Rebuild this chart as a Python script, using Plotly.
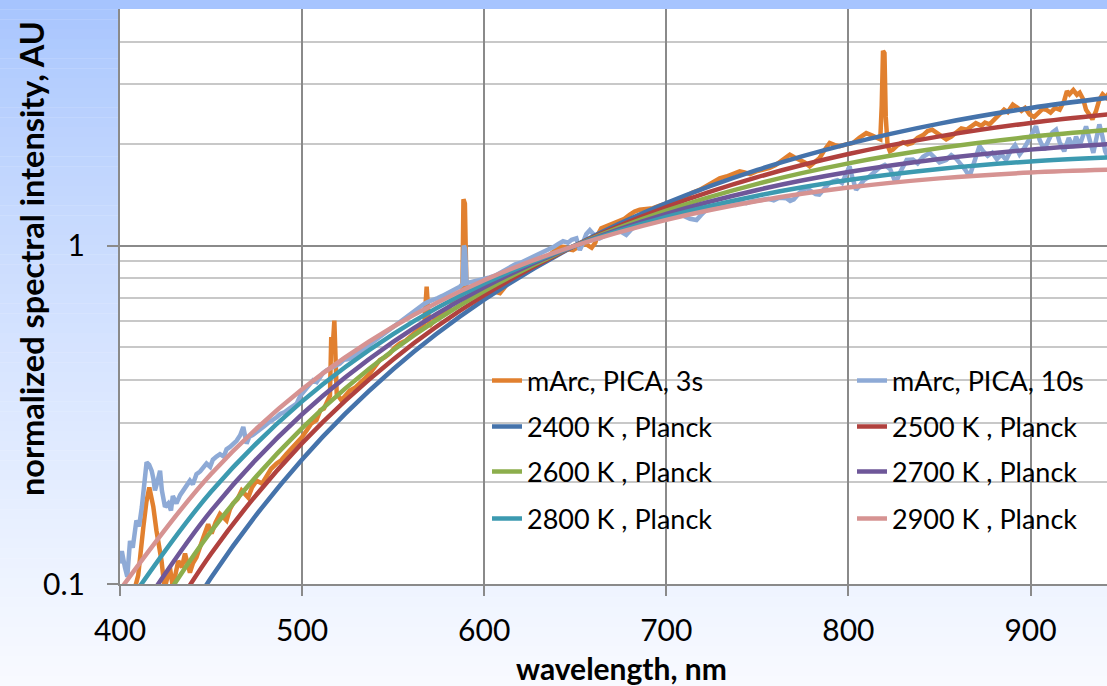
import plotly.graph_objects as go

# ---------------- data ----------------
PICA3_NM = [404, 408, 410, 412.8, 414.5, 416.1, 418.3, 420, 422.8, 424.5, 427.4, 429, 432, 434, 435.7,
            438.4, 440, 442, 444, 445.7, 448.4, 450.3, 452.5, 454.9, 458.5, 460.3, 462.1, 464.5, 466.8,
            470.4, 472.5, 475, 478, 480.5, 483, 486, 488.5, 491.4, 494, 497, 500, 502.5, 505, 507.9, 510,
            512, 514.3, 515.3, 516, 516.8, 517.7, 518.4, 519, 521.6, 524, 526.2, 529, 531.7, 534.5, 537.2,
            540, 542.7, 545.5, 548.2, 551, 553.7, 556.5, 559.2, 562, 564.7, 567, 568.4, 569.8, 572.5,
            575.6, 578.3, 581.1, 584, 586.6, 588, 588.6, 589.4, 590.3, 593, 595.7, 598, 601, 604, 606,
            608.6, 611, 614, 617, 620, 623, 626, 629, 632, 635, 638, 641.5, 644, 646.5, 648.8, 651, 654,
            656.5, 659, 661, 662.5, 664.3, 667, 670.7, 674, 677, 680, 682.6, 685.4, 689, 692.7, 696, 700,
            703.5, 707.4, 711, 714.5, 718.3, 722, 725.5, 729.3, 733, 736.5, 740.3, 743, 746, 749.4, 753,
            756.7, 760, 764, 767.8, 770.5, 773.3, 776, 778.7, 781.5, 784.2, 787, 789.7, 792.5, 795.2,
            798.8, 802.5, 806, 809.8, 812.5, 815.3, 817.5, 818.3, 819, 819.8, 820.5, 821.5, 822.8, 824.4,
            827, 830, 832.5, 835, 838, 841, 843.5, 846, 848.5, 851, 853.7, 856.5, 859, 862, 865, 867.5,
            870, 873, 875, 877.5, 880, 883, 885.5, 887.5, 890.3, 892.5, 895, 897, 899.5, 902, 904.5,
            906.5, 908.6, 911, 913.5, 916, 918.5, 920, 921.4, 923.5, 925.5, 927, 929, 930.5, 932, 934,
            936, 937.8, 939.6, 941.5, 943]
PICA3_VAL = [0.080, 0.095, 0.106, 0.147, 0.175, 0.193, 0.169, 0.144, 0.117, 0.097, 0.112, 0.098, 0.117,
             0.112, 0.123, 0.108, 0.115, 0.120, 0.130, 0.137, 0.150, 0.141, 0.152, 0.161, 0.154, 0.166,
             0.173, 0.178, 0.189, 0.180, 0.193, 0.202, 0.198, 0.207, 0.219, 0.227, 0.232, 0.242, 0.250,
             0.260, 0.272, 0.284, 0.298, 0.305, 0.326, 0.330, 0.349, 0.360, 0.537, 0.500, 0.600, 0.450,
             0.365, 0.349, 0.362, 0.373, 0.380, 0.391, 0.405, 0.419, 0.440, 0.459, 0.468, 0.480, 0.500,
             0.514, 0.522, 0.537, 0.551, 0.569, 0.572, 0.756, 0.577, 0.600, 0.630, 0.640, 0.660, 0.690,
             0.706, 0.720, 1.370, 1.330, 0.730, 0.745, 0.735, 0.755, 0.750, 0.745, 0.730, 0.723, 0.750,
             0.790, 0.800, 0.820, 0.840, 0.850, 0.875, 0.900, 0.925, 0.955, 0.993, 0.990, 0.975, 0.970,
             0.990, 1.010, 1.005, 0.985, 1.020, 1.080, 1.125, 1.140, 1.165, 1.180, 1.200, 1.235, 1.260,
             1.276, 1.285, 1.290, 1.310, 1.335, 1.350, 1.366, 1.400, 1.435, 1.460, 1.500, 1.545, 1.580,
             1.600, 1.630, 1.656, 1.645, 1.625, 1.656, 1.670, 1.695, 1.730, 1.800, 1.857, 1.820, 1.795,
             1.760, 1.714, 1.760, 1.814, 1.920, 2.010, 1.980, 1.965, 1.990, 2.010, 2.080, 2.150, 2.120,
             2.080, 2.060, 2.600, 3.760, 3.700, 2.400, 1.980, 1.900, 1.920, 1.980, 2.020, 1.990, 2.010,
             2.080, 2.120, 2.180, 2.200, 2.150, 2.100, 2.060, 2.100, 2.160, 2.220, 2.200, 2.260, 2.300,
             2.260, 2.310, 2.280, 2.360, 2.450, 2.520, 2.480, 2.610, 2.560, 2.500, 2.550, 2.440, 2.400,
             2.470, 2.530, 2.520, 2.470, 2.550, 2.520, 2.680, 2.860, 2.800, 2.880, 2.790, 2.830, 2.700,
             2.520, 2.450, 2.360, 2.500, 2.700, 2.800, 2.740, 2.820]

PICA10_NM = [400, 401, 402.7, 404, 405.5, 407, 409, 410.5, 412, 413.5, 414.6, 416, 417.4, 418.3, 419.2,
             420.5, 422, 423, 424.7, 426.5, 428, 429, 431, 433, 434.7, 436.5, 438.4, 440, 442, 444, 445.5,
             447.5, 449.5, 451, 453, 454.9, 457, 458.5, 460.4, 462, 464, 466, 467.7, 469.5, 471, 473, 475,
             476.8, 479, 481, 483.5, 486, 488, 490.5, 493, 495, 497, 499, 501, 502.5, 504, 506, 508, 510,
             511.5, 513.4, 515.5, 518, 520.7, 523, 525.5, 528, 530.5, 533, 535.4, 538, 540, 542.7, 545,
             547.5, 550, 552.5, 555, 557.4, 560, 562, 564.7, 567, 569.5, 572, 574.5, 577, 579.3, 582,
             584.5, 586.6, 588.2, 588.8, 589.5, 590.3, 592.5, 595, 597.6, 600, 603, 606, 608.6, 611, 614,
             617, 620, 623, 626, 629, 632, 635, 638, 640.5, 643.3, 646, 648, 650.6, 651.8, 652.5, 654, 656,
             658, 660, 663.4, 666, 669, 672, 675, 678, 681, 684, 687, 690, 692.7, 696, 700, 703.5, 707.4,
             710, 713, 716.6, 719, 722, 725, 728, 731.5, 734.7, 738, 741, 743.9, 747, 750, 753, 756, 759,
             762, 765.9, 768, 770, 773, 776.9, 780, 782, 784, 786.5, 789, 791.5, 794, 796.5, 798.5, 800.6,
             802, 804.2, 806, 808.5, 811.6, 814, 817, 820, 823, 826, 828.5, 832, 835.4, 838, 841, 844.6,
             847, 850, 853.7, 856.5, 859, 862, 864, 866.5, 869, 872, 874, 876.5, 879, 881.5, 884, 886.6,
             889, 891.5, 894, 896.5, 899, 901, 903, 905, 907.5, 910, 912, 914, 916, 918.5, 921, 923.5,
             925, 927, 929, 930.5, 932.5, 934.5, 936, 937.8, 939.5, 941, 942.5, 944]
PICA10_VAL = [0.115, 0.125, 0.112, 0.105, 0.134, 0.128, 0.154, 0.148, 0.169, 0.200, 0.229, 0.225, 0.216,
              0.205, 0.189, 0.200, 0.216, 0.189, 0.169, 0.173, 0.165, 0.182, 0.173, 0.183, 0.189, 0.195,
              0.202, 0.197, 0.211, 0.215, 0.220, 0.227, 0.222, 0.233, 0.238, 0.242, 0.238, 0.250, 0.254,
              0.258, 0.265, 0.275, 0.291, 0.260, 0.272, 0.276, 0.281, 0.284, 0.292, 0.298, 0.304, 0.311,
              0.318, 0.322, 0.330, 0.335, 0.341, 0.360, 0.372, 0.382, 0.390, 0.400, 0.395, 0.410, 0.420,
              0.428, 0.433, 0.440, 0.448, 0.460, 0.462, 0.469, 0.480, 0.490, 0.502, 0.515, 0.523, 0.537,
              0.548, 0.560, 0.575, 0.588, 0.600, 0.616, 0.630, 0.645, 0.660, 0.672, 0.683, 0.690, 0.700,
              0.710, 0.720, 0.735, 0.745, 0.756, 0.770, 1.000, 0.980, 0.774, 0.780, 0.785, 0.791, 0.800,
              0.805, 0.815, 0.830, 0.845, 0.866, 0.880, 0.890, 0.905, 0.925, 0.940, 0.955, 0.970, 0.990,
              1.010, 1.030, 1.020, 1.040, 1.050, 0.990, 0.970, 1.010, 1.080, 1.110, 1.080, 1.050, 1.070,
              1.090, 1.100, 1.100, 1.075, 1.120, 1.140, 1.155, 1.170, 1.180, 1.200, 1.210, 1.235, 1.250,
              1.220, 1.200, 1.190, 1.230, 1.276, 1.290, 1.300, 1.320, 1.335, 1.320, 1.345, 1.335, 1.350,
              1.360, 1.366, 1.375, 1.360, 1.385, 1.380, 1.355, 1.370, 1.430, 1.480, 1.450, 1.420, 1.414,
              1.460, 1.520, 1.547, 1.560, 1.530, 1.620, 1.714, 1.600, 1.460, 1.500, 1.560, 1.600, 1.640,
              1.700, 1.730, 1.680, 1.530, 1.650, 1.790, 1.795, 1.750, 1.830, 1.880, 1.820, 1.760, 1.790,
              1.850, 1.810, 1.740, 1.680, 1.600, 1.750, 1.970, 1.900, 1.840, 1.880, 1.800, 1.860, 1.790,
              1.900, 1.980, 1.860, 1.940, 2.050, 2.150, 2.250, 2.050, 1.920, 2.050, 2.160, 2.200, 2.020,
              1.900, 2.080, 1.950, 2.100, 1.970, 2.120, 2.250, 2.050, 1.880, 2.050, 2.280, 2.100, 1.900,
              1.830, 2.000]

PLANCK_NM = [400, 450, 500, 550, 600, 650, 700, 750, 800, 850, 900, 950]
K2400 = [0.0355, 0.1043, 0.2334, 0.4310, 0.6918, 1.0, 1.3342, 1.6728, 1.9969, 2.2924, 2.5498, 2.7644]
K2500 = [0.0448, 0.1229, 0.2607, 0.4609, 0.7134, 1.0, 1.2996, 1.5926, 1.8636, 2.1023, 2.3024, 2.4617]
K2600 = [0.0554, 0.1430, 0.2887, 0.4903, 0.7340, 1.0, 1.2684, 1.5221, 1.7487, 1.9409, 2.0953, 2.2118]
K2700 = [0.0674, 0.1645, 0.3174, 0.5193, 0.7535, 1.0, 1.2402, 1.4596, 1.6487, 1.8028, 1.9206, 2.0035]
K2800 = [0.0810, 0.1873, 0.3465, 0.5477, 0.7721, 1.0, 1.2146, 1.4039, 1.5610, 1.6834, 1.7715, 1.8279]
K2900 = [0.0960, 0.2114, 0.3760, 0.5755, 0.7899, 1.0, 1.1913, 1.3540, 1.4837, 1.5795, 1.6433, 1.6784]

X_TICKS = [400, 500, 600, 700, 800, 900]
Y_TICKS = [0.1, 1]
Y_MINOR = [0.2, 0.3, 0.4, 0.5, 0.6, 0.7, 0.8, 0.9, 2, 3, 4, 5]

# ---------------- figure ----------------
W, H = 1107, 686
ML, MR, MT, MB = 120, 0, 9, 102
PW, PH = W - ML - MR, H - MT - MB

def px_x(p):
    return (p - ML) / PW

def px_y(p):
    return (H - MB - p) / PH

FONT = "Lato"

series = [
    ("mArc, PICA, 3s", PICA3_NM, PICA3_VAL, "#e1802f", "linear", 4.5),
    ("mArc, PICA, 10s", PICA10_NM, PICA10_VAL, "#8eaad6", "linear", 4.5),
    ("2400 K , Planck", PLANCK_NM, K2400, "#4573ab", "spline", 4.5),
    ("2500 K , Planck", PLANCK_NM, K2500, "#b0413e", "spline", 4.5),
    ("2600 K , Planck", PLANCK_NM, K2600, "#8cae4c", "spline", 4.5),
    ("2700 K , Planck", PLANCK_NM, K2700, "#6e5799", "spline", 4.5),
    ("2800 K , Planck", PLANCK_NM, K2800, "#3c9ab0", "spline", 4.5),
    ("2900 K , Planck", PLANCK_NM, K2900, "#d69392", "spline", 4.5),
]

# legend slot positions (pixel) : column x, row y
LEG_X = [487, 852]
LEG_Y = [381, 427, 472, 519]

fig = go.Figure()
layout_legends = {}
for i, (name, xs, ys, col, shape, lw) in enumerate(series):
    lname = "legend" if i == 0 else f"legend{i+1}"
    fig.add_trace(go.Scatter(
        x=xs, y=ys, mode="lines", name=name,
        line=dict(color=col, width=lw, shape=shape),
        legend=lname, hoverinfo="skip"))
    layout_legends[lname] = dict(
        x=px_x(LEG_X[i % 2]), y=px_y(LEG_Y[i // 2]),
        xanchor="left", yanchor="middle",
        bgcolor="rgba(0,0,0,0)", borderwidth=0,
        font=dict(family=FONT, size=27, color="black"))

# background gradient (light blue at top fading to white)
shapes = []
N = 70
top = (166, 196, 254)
bot = (248, 250, 255)
y_top = px_y(0)
y_bot = px_y(H)
for k in range(N):
    t = k / (N - 1)
    tt = t ** 0.8
    c = tuple(int(round(top[j] + (bot[j] - top[j]) * tt)) for j in range(3))
    ya = y_top + (y_bot - y_top) * k / N
    yb = y_top + (y_bot - y_top) * (k + 1) / N
    shapes.append(dict(type="rect", xref="paper", yref="paper",
                       x0=px_x(0), x1=px_x(W), y0=yb, y1=ya + 0.0005,
                       fillcolor=f"rgb{c}", line=dict(width=0), layer="below"))
shapes.append(dict(type="rect", xref="paper", yref="paper", x0=0, x1=1, y0=0, y1=1,
                   fillcolor="white", line=dict(width=0), layer="below"))

fig.update_layout(
    width=W, height=H,
    margin=dict(l=ML, r=MR, t=MT, b=MB),
    paper_bgcolor="#f8faff", plot_bgcolor="white",
    shapes=shapes,
    showlegend=True,
    font=dict(family=FONT, color="black"),
    annotations=[
        dict(text="<b>wavelength, nm</b>", xref="paper", yref="paper",
             x=px_x(621), y=px_y(668), xanchor="center", yanchor="middle",
             showarrow=False, font=dict(family=FONT, size=30, color="black")),
        dict(text="<b>normalized spectral intensity, AU</b>", xref="paper", yref="paper",
             x=px_x(31), y=px_y(259), xanchor="center", yanchor="middle", textangle=-90,
             showarrow=False, font=dict(family=FONT, size=32.5, color="black")),
    ],
    **layout_legends,
)

fig.update_xaxes(
    range=[400, 942], tickvals=X_TICKS, ticktext=[str(v) for v in X_TICKS],
    showgrid=True, gridcolor="#8a8a8a", gridwidth=2,
    showline=True, linecolor="#8a8a8a", linewidth=2,
    ticks="outside", ticklen=10, tickwidth=2, tickcolor="#8a8a8a",
    ticklabelstandoff=9,
    tickfont=dict(family=FONT, size=30, color="black"),
    zeroline=False,
)
fig.update_yaxes(
    type="log", range=[-1, 0.69897], tickvals=Y_TICKS, ticktext=["0.1", "1"],
    showgrid=True, gridcolor="#8a8a8a", gridwidth=2,
    showline=True, linecolor="#8a8a8a", linewidth=2,
    ticks="outside", ticklen=11, tickwidth=2, tickcolor="#8a8a8a",
    ticklabelstandoff=16,
    tickfont=dict(family=FONT, size=30, color="black"),
    minor=dict(tickvals=Y_MINOR, showgrid=True, gridcolor="#c8c8c8", gridwidth=2, ticks=""),
    zeroline=False,
)

fig.write_html("out.html")
